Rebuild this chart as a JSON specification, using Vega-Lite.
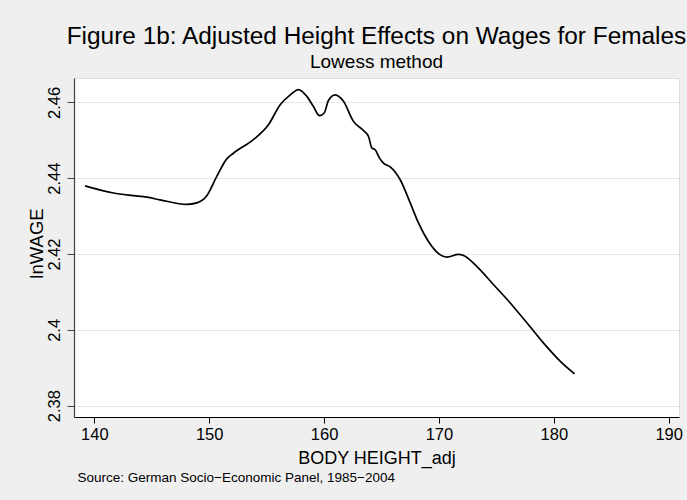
{
  "$schema": "https://vega.github.io/schema/vega-lite/v6.json",
  "width": 605,
  "height": 339,
  "autosize": {"type": "none"},
  "padding": {"left": 74, "top": 78, "right": 8, "bottom": 83},
  "background": "#EFEFEF",
  "title": {
    "text": "Figure 1b: Adjusted Height Effects on Wages for Females",
    "subtitle": "Lowess method",
    "anchor": "middle",
    "frame": "group",
    "font": "Liberation Sans",
    "subtitleFont": "Liberation Sans",
    "fontSize": 24.4,
    "subtitleFontSize": 19,
    "fontWeight": "normal",
    "color": "black",
    "subtitleColor": "black",
    "offset": 5,
    "subtitlePadding": 4
  },
  "config": {
    "view": {"fill": "white", "stroke": "#DDDDDD"},
    "font": "Liberation Sans"
  },
  "data": {
    "values": [
      {"height": 139.19, "lnwage": 2.4380},
      {"height": 141.66, "lnwage": 2.4361},
      {"height": 143.40, "lnwage": 2.4354},
      {"height": 144.56, "lnwage": 2.4350},
      {"height": 145.72, "lnwage": 2.4343},
      {"height": 148.05, "lnwage": 2.4331},
      {"height": 148.92, "lnwage": 2.4335},
      {"height": 149.79, "lnwage": 2.4354},
      {"height": 150.66, "lnwage": 2.4405},
      {"height": 151.53, "lnwage": 2.4451},
      {"height": 152.11, "lnwage": 2.4466},
      {"height": 153.85, "lnwage": 2.4502},
      {"height": 155.16, "lnwage": 2.4541},
      {"height": 156.18, "lnwage": 2.4594},
      {"height": 157.06, "lnwage": 2.4620},
      {"height": 157.77, "lnwage": 2.4634},
      {"height": 158.50, "lnwage": 2.4616},
      {"height": 159.08, "lnwage": 2.4589},
      {"height": 159.60, "lnwage": 2.4565},
      {"height": 160.01, "lnwage": 2.4572},
      {"height": 160.38, "lnwage": 2.4605},
      {"height": 160.97, "lnwage": 2.4620},
      {"height": 161.69, "lnwage": 2.4603},
      {"height": 162.56, "lnwage": 2.4550},
      {"height": 163.43, "lnwage": 2.4526},
      {"height": 163.87, "lnwage": 2.4510},
      {"height": 164.16, "lnwage": 2.4480},
      {"height": 164.45, "lnwage": 2.4475},
      {"height": 164.83, "lnwage": 2.4453},
      {"height": 165.17, "lnwage": 2.4440},
      {"height": 165.76, "lnwage": 2.4430},
      {"height": 166.63, "lnwage": 2.4396},
      {"height": 167.50, "lnwage": 2.4335},
      {"height": 168.22, "lnwage": 2.4282},
      {"height": 169.09, "lnwage": 2.4233},
      {"height": 169.97, "lnwage": 2.4201},
      {"height": 170.70, "lnwage": 2.4192},
      {"height": 171.71, "lnwage": 2.4199},
      {"height": 172.14, "lnwage": 2.4196},
      {"height": 173.31, "lnwage": 2.4167},
      {"height": 174.76, "lnwage": 2.4119},
      {"height": 176.21, "lnwage": 2.4071},
      {"height": 177.67, "lnwage": 2.4018},
      {"height": 179.11, "lnwage": 2.3965},
      {"height": 180.57, "lnwage": 2.3917},
      {"height": 181.81, "lnwage": 2.3884}
    ]
  },
  "layer": [
    {
      "mark": {"type": "line", "color": "black", "strokeWidth": 1.7, "interpolate": "monotone"},
      "encoding": {
        "x": {
          "field": "height",
          "type": "quantitative",
          "scale": {"domain": [138.23, 190.9], "nice": false, "zero": false},
          "axis": {
            "orient": "bottom",
            "values": [140, 150, 160, 170, 180, 190],
            "grid": false,
            "domainColor": "black",
            "domainWidth": 1.2,
            "tickColor": "black",
            "tickSize": 6,
            "labelFontSize": 16.5,
            "labelColor": "black",
            "labelPadding": 3,
            "labelFlush": false,
            "labelOverlap": false,
            "title": "BODY HEIGHT_adj",
            "titleFontSize": 18,
            "titleFontWeight": "normal",
            "titleColor": "black",
            "titlePadding": 7
          }
        },
        "y": {
          "field": "lnwage",
          "type": "quantitative",
          "scale": {"domain": [2.37702, 2.46644], "nice": false, "zero": false},
          "axis": {
            "orient": "left",
            "values": [2.38, 2.4, 2.42, 2.44, 2.46],
            "format": ".3~g",
            "grid": true,
            "gridColor": "#E6E6E6",
            "gridWidth": 1.2,
            "domainColor": "#444444",
            "domainWidth": 1.2,
            "tickColor": "#444444",
            "tickSize": 7,
            "labelAngle": -90,
            "labelAlign": "center",
            "labelBaseline": "bottom",
            "labelFontSize": 16.5,
            "labelColor": "black",
            "labelPadding": 5,
            "labelFlush": false,
            "labelOverlap": false,
            "title": "lnWAGE",
            "titleFontSize": 18.5,
            "titleFontWeight": "normal",
            "titleColor": "black",
            "titlePadding": 0,
            "titleY": 165
          }
        }
      }
    },
    {
      "mark": {"type": "point", "opacity": 0},
      "encoding": {
        "x": {
          "field": "height",
          "type": "quantitative",
          "axis": {
            "orient": "bottom",
            "offset": 53,
            "domain": false,
            "ticks": false,
            "labels": false,
            "grid": false,
            "title": "Source: German Socio−Economic Panel, 1985−2004",
            "titleAnchor": "start",
            "titleAlign": "left",
            "titleX": 3,
            "titleFontSize": 13.5,
            "titleFontWeight": "normal",
            "titleColor": "black",
            "titlePadding": 0
          }
        },
        "y": {"field": "lnwage", "type": "quantitative", "axis": null}
      }
    }
  ],
  "resolve": {"axis": {"x": "independent", "y": "independent"}}
}
